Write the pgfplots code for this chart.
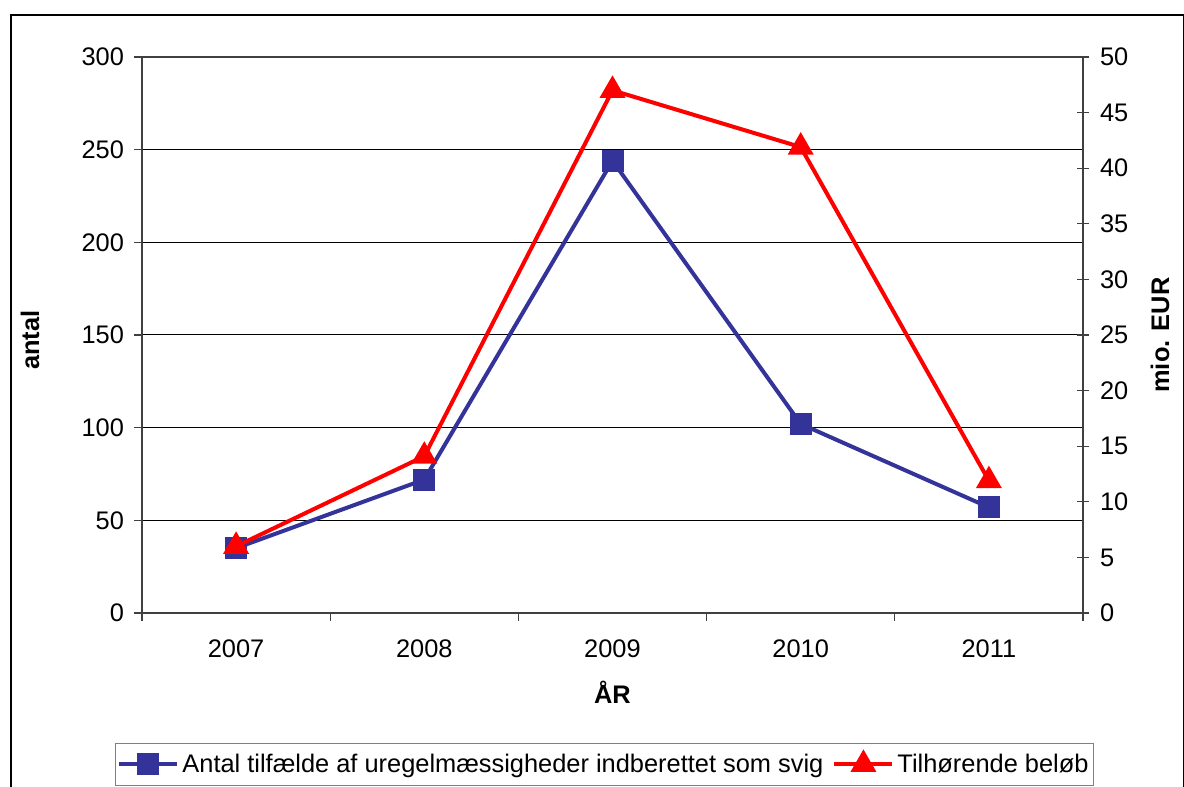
\documentclass[border=0pt]{standalone}
\usepackage{fontspec}
\setmainfont{Liberation Sans}
\usepackage{pgfplots}
\pgfplotsset{compat=1.18}
\definecolor{navy}{HTML}{333399}
\definecolor{axisgray}{HTML}{404040}
\begin{document}
\begin{tikzpicture}[font=\fontsize{12.7pt}{15pt}\selectfont]
\useasboundingbox (0,0) rectangle (592pt,393.5pt);
\draw[line width=0.6pt] (5.5pt,-2pt) -- (5.5pt,386pt) -- (591.7pt,386pt) -- (591.7pt,-2pt);

\begin{axis}[
    at={(71pt,87pt)}, anchor=south west,
    scale only axis, width=470.5pt, height=278pt,
    xmin=-0.5, xmax=4.5, ymin=0, ymax=300,
    xtick={-0.5,0.5,1.5,2.5,3.5,4.5}, xticklabels={},
    extra x ticks={0,1,2,3,4},
    extra x tick labels={2007,2008,2009,2010,2011},
    extra x tick style={major tick length=0pt, xticklabel style={yshift=-10pt}},
    ytick={0,50,...,300},
    xtick pos=bottom, ytick pos=left, tick align=outside,
    major tick length=4pt,
    tick style={axisgray, line width=0.6pt},
    axis line style={axisgray, line width=0.8pt},
    ymajorgrids=true,
    grid style={black, line width=0.5pt},
    yticklabel style={xshift=-1.5pt},
    /pgf/number format/assume math mode=true,
    xlabel={\textbf{ÅR}},
    xlabel style={at={(axis description cs:0.5,-0.142)}, anchor=center},
    ylabel={\textbf{antal}},
    ylabel style={at={(axis description cs:-0.119,0.491)}, anchor=center},
]
\addplot[navy, line width=2pt, mark=square*, mark size=4.5pt]
coordinates {(0,35)(1,72)(2,244)(3,102)(4,57)};
\end{axis}

\begin{axis}[
    at={(71pt,87pt)}, anchor=south west,
    scale only axis, width=470.5pt, height=278pt,
    xmin=-0.5, xmax=4.5, ymin=0, ymax=50,
    axis x line=none, axis y line*=right,
    axis line style={axisgray, line width=0.8pt, -},
    ytick={0,5,...,50},
    tick align=center, major tick length=6pt,
    tick style={axisgray, line width=0.6pt},
    yticklabel style={xshift=2pt},
    /pgf/number format/assume math mode=true,
    ylabel={\textbf{mio. EUR}},
    ylabel style={at={(axis description cs:1.082,0.5)}, anchor=center, rotate=0},
    legend columns=2,
    legend style={at={(0.4915,-0.234)}, anchor=north, draw=gray, line width=0.6pt,
        inner xsep=1pt, inner ysep=3pt,
        nodes={inner xsep=1.5pt},
        /tikz/every even column/.append style={column sep=3pt}},
    legend image code/.code={
        \draw[mark repeat=2, mark phase=2, #1] plot coordinates {(0pt,0pt)(14.5pt,0pt)(29pt,0pt)};},
]
\addlegendimage{navy, line width=2pt, mark=square*, mark size=4.5pt}
\addlegendentry{Antal tilfælde af uregelmæssigheder indberettet som svig}
\addplot[red, line width=2pt, mark=triangle*, mark size=5.5pt]
coordinates {(0,6)(1,14.1)(2,47)(3,41.9)(4,11.9)};
\addlegendentry{Tilhørende beløb}
\end{axis}
\end{tikzpicture}
\end{document}
